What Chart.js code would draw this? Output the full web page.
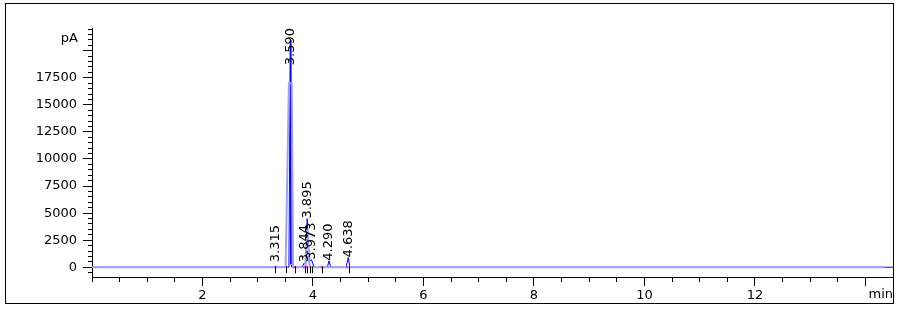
<!DOCTYPE html>
<html>
<head>
<meta charset="utf-8">
<script src="https://cdn.jsdelivr.net/npm/chart.js@4.4.1/dist/chart.umd.min.js"></script>
<style>
  html, body { margin: 0; padding: 0; background: #ffffff; }
  #c { display: block; }
</style>
</head>
<body>
<canvas id="c" width="901" height="313"></canvas>
<script>
// ---- Data ----
// Detector signal (dark blue)
const signalTime = [0, 3.30, 3.315, 3.33, 3.565, 3.590, 3.600, 3.62, 3.80, 3.844, 3.87, 3.895, 3.93, 3.973, 4.02, 4.26, 4.290, 4.32, 4.60, 4.638, 4.67, 14.5];
const signalPA   = [0, 0,    120,   0,    0,     21000, 300,   0,    0,    400,   250,  4500,  500,  700,   0,    0,    600,   0,    0,    900,   0,    0];
// Overlay trace (lavender)
const overlayTime = [0, 3.505, 3.565, 3.615, 3.64, 3.86, 3.90, 3.94, 14.35];
const overlayPA   = [0, 0,     17000, 17000, 0,    0,    3600, 0,    0];
// Integration baseline segments (magenta)
const baseStart = [3.64, 3.82, 4.14, 4.60];
const baseEnd   = [3.70, 3.91, 4.19, 4.64];
// Peak annotations
const peakTimes  = [3.315, 3.590, 3.844, 3.895, 3.973, 4.290, 4.638];
const peakLabels = ["3.315", "3.590", "3.844", "3.895", "3.973", "4.290", "4.638"];
const peakHeights = [120, 21000, 400, 4500, 700, 600, 900];
// Integration event marks
const markTimes = [3.315, 3.51, 3.68, 3.86, 3.90, 3.94, 3.98, 4.17, 4.66];
// Axes
const xMin = 0, xMax = 14.5, xMajorStep = 2, xMinorStep = 0.5;
const yMin = -900, yMax = 22100, yMajorStep = 2500, yMinorStep = 500, yLabelMax = 17500;
const xUnit = "min", yUnit = "pA";

const FONT = "DejaVu Sans";

function pts(t, v) { return t.map((x, i) => ({ x: x, y: v[i] })); }
function segs(s, e) {
  const out = [];
  s.forEach((a, i) => { out.push({ x: a, y: 0 }); out.push({ x: e[i], y: 0 }); out.push({ x: e[i], y: null }); });
  return out;
}
function stepTicks(min, max, step) {
  const out = [];
  for (let k = Math.ceil(min / step - 1e-9); k * step <= max + 1e-9; k++) {
    out.push({ value: Math.round(k * step * 1000) / 1000 });
  }
  return out;
}

const decor = {
  id: 'decor',
  afterDatasetsDraw(chart) {
    const ctx = chart.ctx;
    const xs = chart.scales.x, ys = chart.scales.y;
    const ca = chart.chartArea;
    const zeroY = ys.getPixelForValue(0);
    ctx.save();
    // event marks
    ctx.strokeStyle = '#000';
    ctx.lineWidth = 1;
    markTimes.forEach(t => {
      const px = Math.round(xs.getPixelForValue(t)) + 0.5;
      ctx.beginPath();
      ctx.moveTo(px, zeroY - 1);
      ctx.lineTo(px, zeroY + 6);
      ctx.stroke();
    });
    // peak labels
    ctx.font = '13px "' + FONT + '"';
    ctx.fillStyle = '#000';
    ctx.textAlign = 'left';
    ctx.textBaseline = 'middle';
    peakTimes.forEach((t, i) => {
      const px = xs.getPixelForValue(t);
      const w = ctx.measureText(peakLabels[i]).width;
      let bottom = ys.getPixelForValue(peakHeights[i]);
      bottom = Math.max(bottom, ca.top + w);
      bottom = Math.min(bottom, zeroY - 5);
      ctx.save();
      ctx.translate(px, bottom);
      ctx.rotate(-Math.PI / 2);
      ctx.fillText(peakLabels[i], 0, 0);
      ctx.restore();
    });
    ctx.restore();
  },
  afterDraw(chart) {
    const ctx = chart.ctx;
    const ca = chart.chartArea;
    ctx.save();
    ctx.font = '13px "' + FONT + '"';
    ctx.fillStyle = '#000';
    ctx.textAlign = 'right';
    ctx.textBaseline = 'middle';
    ctx.fillText(yUnit, 78, 39);
    ctx.fillText(xUnit, ca.right, 295);
    // outer frame
    ctx.strokeStyle = '#000';
    ctx.lineWidth = 1;
    ctx.strokeRect(5.5, 3.5, ca.right - 5, 300);
    ctx.restore();
  }
};

new Chart(document.getElementById('c'), {
  type: 'line',
  data: {
    datasets: [
      { data: segs(baseStart, baseEnd), borderColor: '#ff33cc', borderWidth: 2, pointRadius: 0, spanGaps: false, tension: 0 },
      { data: pts(overlayTime, overlayPA), borderColor: '#a0a0f8', borderWidth: 2, pointRadius: 0, tension: 0 },
      { data: pts(signalTime, signalPA), borderColor: '#0000ff', borderWidth: 1, pointRadius: 0, tension: 0 }
    ]
  },
  options: {
    responsive: false,
    animation: false,
    devicePixelRatio: 1,
    layout: { padding: { top: 28, right: 8, left: 0, bottom: 0 } },
    plugins: { legend: { display: false }, tooltip: { enabled: false }, title: { display: false } },
    scales: {
      x: {
        type: 'linear', position: 'bottom', weight: 1, min: xMin, max: xMax,
        afterBuildTicks: s => { s.ticks = stepTicks(xMin, xMax, xMajorStep); },
        ticks: {
          autoSkip: false, maxRotation: 0,
          color: '#000', font: { family: FONT, size: 13 }, padding: 2,
          callback: v => (v === 0 || v === 14) ? '' : String(v)
        },
        grid: { drawOnChartArea: false, drawTicks: true, tickLength: 9,
                tickColor: c => (c.tick && c.tick.value === 0) ? 'rgba(0,0,0,0)' : '#000' },
        border: { display: true, color: '#000', width: 1 },
        afterFit: s => { s.height = 36; }
      },
      x2: {
        type: 'linear', axis: 'x', position: 'bottom', weight: 0, min: xMin, max: xMax,
        afterBuildTicks: s => { s.ticks = stepTicks(xMin, xMax, xMinorStep); },
        ticks: { display: false, autoSkip: false },
        grid: { drawOnChartArea: false, drawTicks: true, tickLength: 5, tickColor: '#000' },
        border: { display: false },
        afterFit: s => { s.height = 0; }
      },
      y: {
        type: 'linear', position: 'left', weight: 1, min: yMin, max: yMax,
        afterBuildTicks: s => { s.ticks = stepTicks(yMin, yMax, yMajorStep); },
        ticks: {
          autoSkip: false,
          color: '#000', font: { family: FONT, size: 13 }, padding: 6,
          callback: v => (v >= 0 && v <= yLabelMax) ? String(v) : ''
        },
        grid: { drawOnChartArea: false, drawTicks: true, tickLength: 9, tickColor: '#000' },
        border: { display: true, color: '#000', width: 1 },
        afterFit: s => { s.width = 92; }
      },
      y2: {
        type: 'linear', axis: 'y', position: 'left', weight: 0, min: yMin, max: yMax,
        afterBuildTicks: s => { s.ticks = stepTicks(yMin, yMax, yMinorStep); },
        ticks: { display: false, autoSkip: false },
        grid: { drawOnChartArea: false, drawTicks: true, tickLength: 4, tickColor: '#000' },
        border: { display: false },
        afterFit: s => { s.width = 0; }
      }
    }
  },
  plugins: [decor]
});
</script>
</body>
</html>
